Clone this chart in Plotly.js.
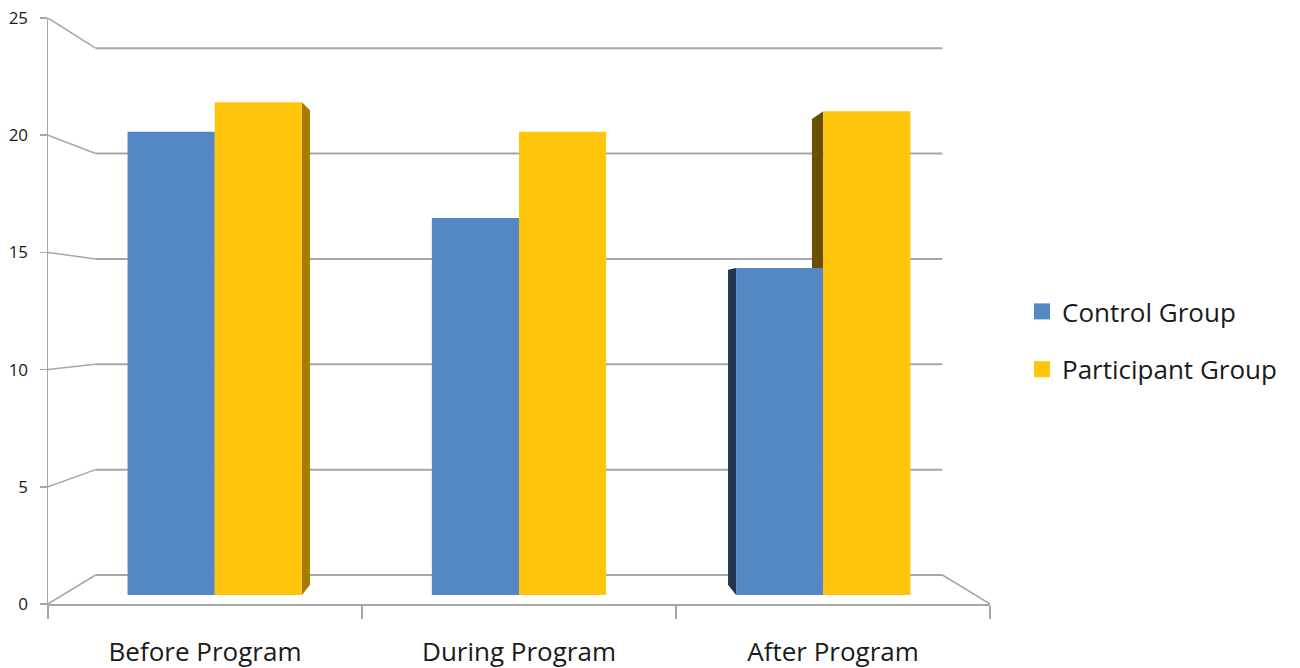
<!DOCTYPE html>
<html>
<head>
<meta charset="utf-8">
<script src="https://cdn.plot.ly/plotly-3.0.1.min.js"></script>
<style>html,body{margin:0;padding:0;background:#fff;}#chart{width:1300px;height:668px;}</style>
</head>
<body>
<div id="chart"></div>
<script>
// ---- data ----
const categories = ["Before Program", "During Program", "After Program"];
const controlGroup = [20.4, 16.6, 14.4];
const participantGroup = [21.7, 20.4, 21.3];
const seriesNames = ["Control Group", "Participant Group"];
const yTicks = [0, 5, 10, 15, 20, 25];

// ---- styling / geometry ----
const W = 1300, H = 668;
const L = 48, R = 990, T = 18, B = 604;      // plot area in pixels
const yMax = 25;
const catPx = (R - L) / 3;                    // front category width in px
const s = (B - T) / yMax;                     // front px per unit
const vx = (L + R) / 2, vy = 317;             // vanishing point (px)
const kBarFront = 0.969, kBarBack = 0.933, kWall = 0.899;
const bargap = 0.427;
const half = (1 - bargap) / 2;
const colFront = ["#5587c5", "#ffc60b"];
const colSideRight = ["#2c4a70", "#a67c00"];
const colSideLeft = ["#1f3552", "#6b4f00"];
const gridColor = "#a6a6a6";
const font = "Open Sans, Noto Sans, sans-serif";

// bar axis ranges derived from perspective depth of the bar front faces
const cVP = 1;                                 // vanishing point in category units
const vVP = (B - vy) / s;                      // vanishing point in value units
function barXAt(p) { return ((p - vx) / kBarFront + vx - L) / catPx - 0.5; }
function barYAt(p) { return (B - vy - (p - vy) / kBarFront) / s; }
const barXRange = [barXAt(L), barXAt(R)];
const barYRange = [barYAt(B), barYAt(T)];

const idx = categories.map((c, i) => i);
const traces = [];
[controlGroup, participantGroup].forEach((vals, k) => {
  traces.push({
    type: "bar", x: idx, y: vals, name: seriesNames[k],
    xaxis: "x", yaxis: "y", showlegend: false,
    marker: {color: colFront[k], line: {width: 0}},
    hoverinfo: "y"
  });
});
// front axes carrier + legend entries
traces.push({type: "scatter", mode: "markers", x: categories, y: [null, null, null],
  xaxis: "x2", yaxis: "y2", showlegend: false, hoverinfo: "skip"});
seriesNames.forEach((n, k) => {
  traces.push({type: "scatter", mode: "markers", x: [null], y: [null], name: n,
    xaxis: "x2", yaxis: "y2", legendgroup: "g" + k,
    marker: {symbol: "square", size: 18, color: colFront[k]}, hoverinfo: "skip"});
});

// ---- decoration shapes ----
const shapes = [];
function back(x, y, k, cx, cy) { return [cx + k * (x - cx), cy + k * (y - cy)]; }
// back wall gridlines + left wall diagonals (front axis coords)
yTicks.forEach(v => {
  const a = back(-0.5, v, kWall, 1, vVP);
  const b = back(2.5, v, kWall, 1, vVP);
  shapes.push({type: "line", xref: "x2", yref: "y2", x0: a[0], y0: a[1], x1: b[0], y1: b[1],
    line: {color: gridColor, width: 2}, layer: "below"});
  shapes.push({type: "line", xref: "x2", yref: "y2", x0: -0.5, y0: v, x1: a[0], y1: a[1],
    line: {color: gridColor, width: 1.5}, layer: "below"});
});
const fr = back(2.5, 0, kWall, 1, vVP);
shapes.push({type: "line", xref: "x2", yref: "y2", x0: 2.5, y0: 0, x1: fr[0], y1: fr[1],
  line: {color: gridColor, width: 1.5}, layer: "below"});

// bar side faces (perspective, bar axis coords)
const kd = kBarBack / kBarFront;
[controlGroup, participantGroup].forEach((vals, k) => {
  vals.forEach((v, i) => {
    const left = i - half + k * half, right = left + half;
    let edge = null, col = null;
    if (right < cVP - 1e-9) { edge = right; col = colSideRight[k]; }
    else if (left > cVP + 1e-9) { edge = left; col = colSideLeft[k]; }
    if (edge === null) return;
    const t = back(edge, v, kd, cVP, vVP), b0 = back(edge, 0, kd, cVP, vVP);
    shapes.push({type: "path", xref: "x", yref: "y", layer: "below",
      path: `M${edge},0 L${edge},${v} L${t[0]},${t[1]} L${b0[0]},${b0[1]} Z`,
      fillcolor: col, line: {width: 0}});
  });
});

const layout = {
  width: W, height: H,
  margin: {l: L, r: W - R, t: T, b: H - B},
  paper_bgcolor: "#ffffff", plot_bgcolor: "rgba(0,0,0,0)",
  barmode: "group", bargap: bargap, bargroupgap: 0,
  font: {family: font, color: "#1a1a1a"},
  xaxis: {range: barXRange, visible: false, fixedrange: true},
  yaxis: {range: barYRange, visible: false, fixedrange: true},
  xaxis2: {overlaying: "x", anchor: "y2", side: "bottom", type: "category",
    categoryarray: categories, range: [-0.5, 2.5], tickson: "boundaries",
    ticks: "outside", ticklen: 13, tickcolor: gridColor, tickwidth: 1.5,
    showline: true, linecolor: gridColor, linewidth: 1.5, showgrid: false, zeroline: false,
    tickfont: {size: 26, color: "#1a1a1a"}, ticklabelstandoff: 24, fixedrange: true},
  yaxis2: {overlaying: "y", anchor: "x2", side: "left", range: [0, yMax],
    tickvals: yTicks, ticks: "outside", ticklen: 7, tickcolor: gridColor, tickwidth: 1.5,
    showline: true, linecolor: gridColor, linewidth: 1.5, showgrid: false, zeroline: false,
    tickfont: {size: 17, color: "#1a1a1a"}, ticklabelstandoff: 8, fixedrange: true},
  showlegend: true,
  legend: {x: (1022 - L) / (R - L), xanchor: "left", y: (B - 288) / (B - T), yanchor: "top",
    font: {size: 26, color: "#1a1a1a"}, traceorder: "grouped", tracegroupgap: 21,
    itemsizing: "trace", bgcolor: "rgba(0,0,0,0)"},
  shapes: shapes
};

Plotly.newPlot("chart", traces, layout, {displayModeBar: false, staticPlot: true});
</script>
</body>
</html>
